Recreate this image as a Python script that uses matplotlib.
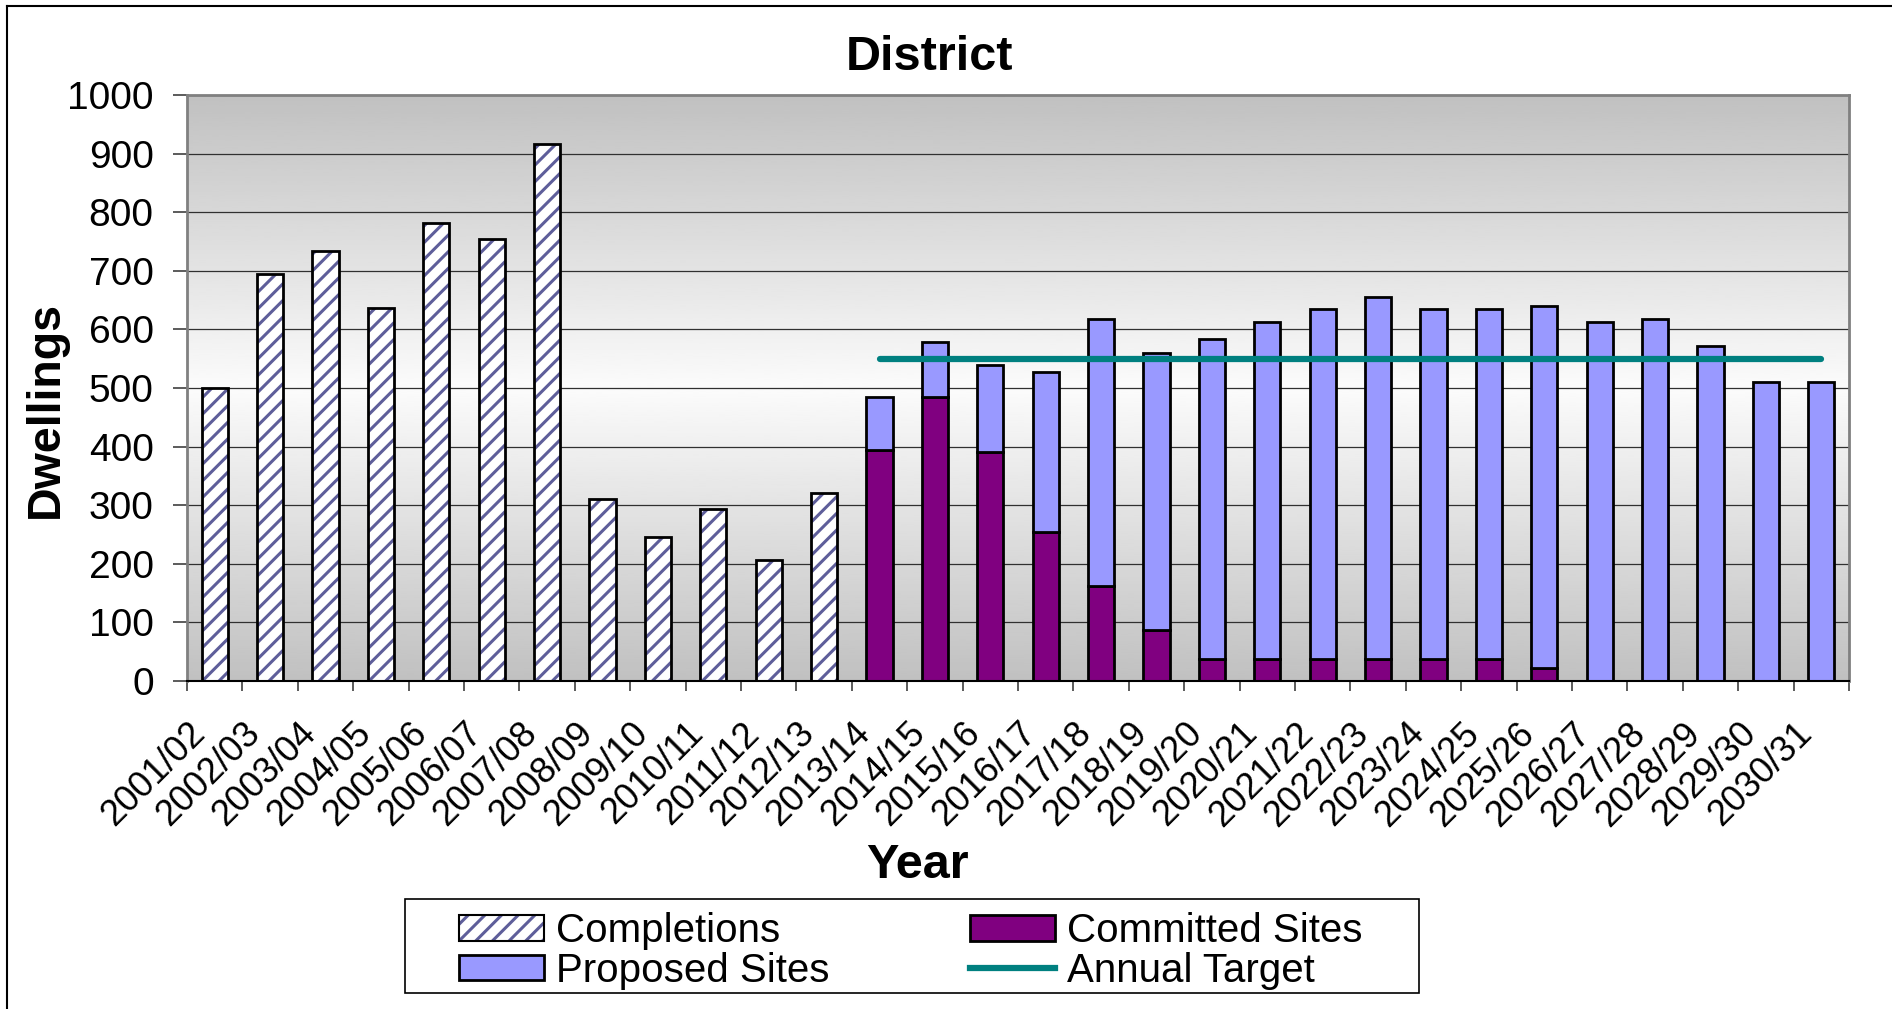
import numpy as np
import matplotlib
matplotlib.use("Agg")
import matplotlib.pyplot as plt
from matplotlib.patches import Patch, Rectangle
from matplotlib.lines import Line2D
from matplotlib.transforms import ScaledTranslation

plt.rcParams['font.family'] = ['Liberation Sans', 'DejaVu Sans']
plt.rcParams['hatch.linewidth'] = 2.2

# --- data ---
years = ["2001/02", "2002/03", "2003/04", "2004/05", "2005/06", "2006/07",
         "2007/08", "2008/09", "2009/10", "2010/11", "2011/12", "2012/13",
         "2013/14", "2014/15", "2015/16", "2016/17", "2017/18", "2018/19",
         "2019/20", "2020/21", "2021/22", "2022/23", "2023/24", "2024/25",
         "2025/26", "2026/27", "2027/28", "2028/29", "2029/30", "2030/31"]
completions = [500, 695, 733, 636, 781, 755, 917, 310, 245, 293, 206, 320]
committed = [395, 484, 390, 254, 162, 87, 38, 38, 38, 38, 38, 38, 22,
             0, 0, 0, 0, 0]
proposed = [89, 94, 149, 274, 455, 473, 545, 574, 596, 617, 596, 596, 618,
            612, 617, 571, 511, 511]
annual_target = 550

hatch_col = '#5e5e9a'
committed_col = '#800080'
proposed_col = '#9999ff'
target_col = '#008080'

fig = plt.figure(figsize=(18.92, 10.09), dpi=100)
ax = fig.add_axes([187 / 1892, 1 - 681 / 1009, (1849 - 187) / 1892, (681 - 95) / 1009])

n = len(years)
x = np.arange(n)
xc = x[:len(completions)]
xf = x[len(completions):]
w = 0.47

# plot area gradient (grey at top and bottom, near white in the middle)
t = np.linspace(0, 1, 256)
grad = 0.755 + 0.23 * (1 - np.abs(2 * t - 1))
ax.imshow(grad[:, None], extent=[-0.5, n - 0.5, 0, 1000], aspect='auto',
          cmap='gray', vmin=0, vmax=1, origin='upper', zorder=0,
          interpolation='bilinear')

ax.set_xlim(-0.5, n - 0.5)
ax.set_ylim(0, 1000)
ax.set_yticks(np.arange(0, 1001, 100))
ax.yaxis.grid(True, color='#303030', lw=0.9, zorder=1)
ax.set_axisbelow(True)

# bars
ax.bar(xc, completions, w, facecolor='white', edgecolor=hatch_col,
       hatch='//', linewidth=0, zorder=2)
ax.bar(xc, completions, w, fill=False, edgecolor='black', linewidth=2, zorder=3)
ax.bar(xf, committed, w, color=committed_col, edgecolor='black',
       linewidth=2, zorder=2)
ax.bar(xf, proposed, w, bottom=committed, color=proposed_col,
       edgecolor='black', linewidth=2, zorder=2)
ax.plot(xf, [annual_target] * len(xf), color=target_col, lw=4.5,
        solid_capstyle='round', zorder=4)

# spines
for s in ['left', 'top', 'right']:
    ax.spines[s].set_color('#808080')
    ax.spines[s].set_linewidth(2)
ax.spines['bottom'].set_color('black')
ax.spines['bottom'].set_linewidth(1.5)

# ticks
ax.tick_params(axis='y', direction='out', length=10, width=1.2,
               color='#404040', pad=14, labelsize=28)
ax.set_xticks(x)
ax.set_xticklabels(years, fontsize=26, rotation=45, ha='right', va='center',
                   rotation_mode='anchor')
ax.set_xticks(np.arange(-0.5, n, 1), minor=True)
ax.tick_params(axis='x', which='major', length=0, pad=34)
ax.tick_params(axis='x', which='minor', direction='out', length=7,
               width=1.2, color='#404040')
off = ScaledTranslation(-0.15, 0, fig.dpi_scale_trans)
for lab in ax.get_xticklabels():
    lab.set_transform(lab.get_transform() + off)

# titles
fig.text(929 / 1892, 1 - 57 / 1009, 'District', fontsize=35,
         fontweight='bold', ha='center', va='center')
fig.text(46 / 1892, 1 - 409 / 1009, 'Dwellings', fontsize=33.5,
         fontweight='bold', ha='center', va='center', rotation=90)
fig.text(917 / 1892, 1 - 866 / 1009, 'Year', fontsize=35,
         fontweight='bold', ha='center', va='center')

# legend
h_comp = (Patch(facecolor='white', edgecolor=hatch_col, hatch='//', lw=0),
          Patch(fill=False, edgecolor='black', lw=1.5))
h_prop = Patch(facecolor=proposed_col, edgecolor='black', lw=2)
h_comm = Patch(facecolor=committed_col, edgecolor='black', lw=2)
h_tgt = Line2D([], [], color=target_col, lw=4.5)
fig.legend([h_comp, h_prop, h_comm, h_tgt],
           ['Completions', 'Proposed Sites', 'Committed Sites', 'Annual Target'],
           ncol=2, loc='center', bbox_to_anchor=(911 / 1892, 1 - 951 / 1009),
           frameon=False, fontsize=29, handlelength=2.1, handleheight=0.6,
           handletextpad=0.3, columnspacing=3.5, labelspacing=0.03)
fig.patches.append(Rectangle((405 / 1892, 1 - 993 / 1009), 1014 / 1892, 94 / 1009,
                             transform=fig.transFigure, fill=False,
                             edgecolor='black', lw=1.2))

# outer chart border (top and left visible)
fig.add_artist(Line2D([7 / 1892, 7 / 1892], [0, 1 - 6 / 1009],
                      transform=fig.transFigure, color='black', lw=1.5))
fig.add_artist(Line2D([7 / 1892, 1], [1 - 6 / 1009, 1 - 6 / 1009],
                      transform=fig.transFigure, color='black', lw=1.5))

fig.savefig('out.png', dpi=100)
